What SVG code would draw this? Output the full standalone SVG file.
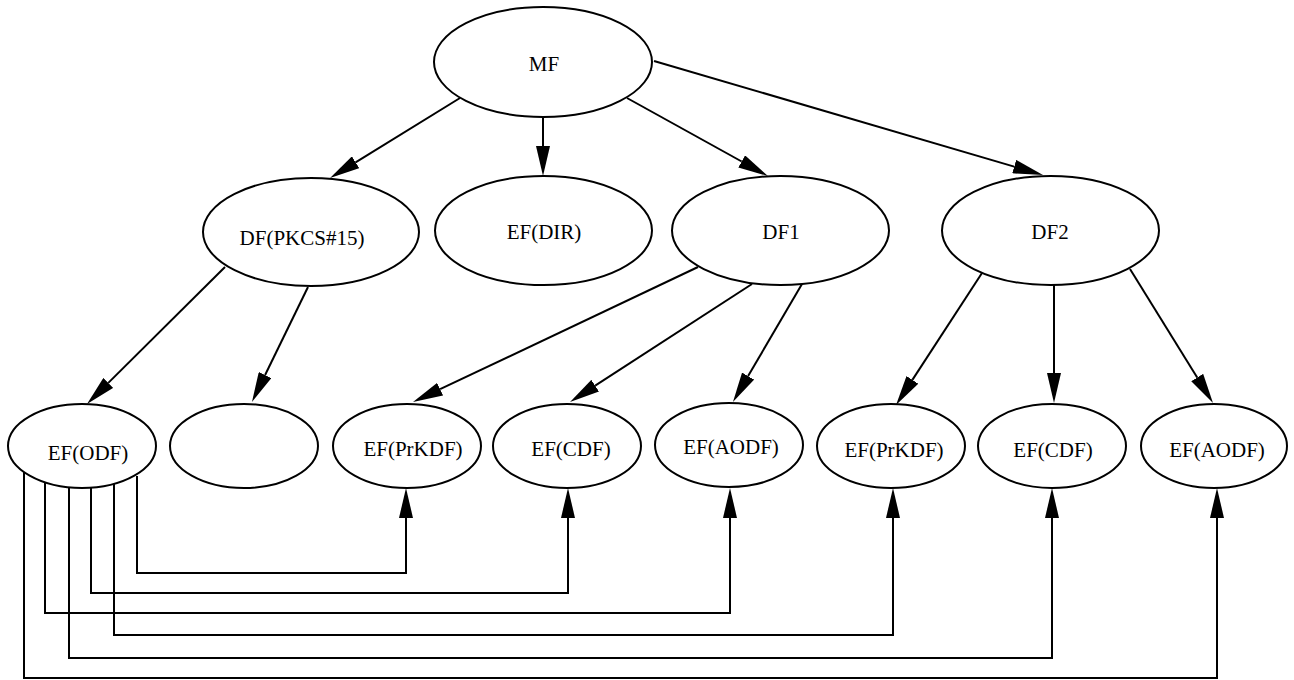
<svg xmlns="http://www.w3.org/2000/svg" width="1294" height="680" viewBox="0 0 1294 680">
<style>
.node ellipse{fill:#fff;stroke:#000;stroke-width:2}
.node text{font-family:"Liberation Serif","Times New Roman",serif;font-size:21px;fill:#000;text-anchor:middle}
.edges path{fill:none;stroke:#000;stroke-width:2;marker-end:url(#arr)}
</style>
<defs>
<marker id="arr" viewBox="0 0 30 14" markerWidth="30" markerHeight="14" refX="0" refY="7" markerUnits="userSpaceOnUse" orient="auto">
<path d="M0,0 L30,7 L0,14 z" fill="#000"/>
</marker>
</defs>
<rect width="1294" height="680" fill="#fff"/>
<g class="edges" id="connectors">
<path d="M460,98 L355.6,162.3"/>
<path d="M543,117 L543,146"/>
<path d="M627,98 L741.7,161.5"/>
<path d="M654,61 L1014.2,166.6"/>
<path d="M225,267 L108.3,382.9"/>
<path d="M308,287 L265.1,375"/>
<path d="M698,267 L440.1,389.2"/>
<path d="M752,284 L595.2,385.7"/>
<path d="M802,284 L748.1,376.1"/>
<path d="M982,273 L912.4,379.9"/>
<path d="M1054,285 L1054,373"/>
<path d="M1130,269 L1197.2,377.5"/>
<path d="M137,476 L137,573 L406,573 L406,518"/>
<path d="M91,487 L91,593 L568,593 L568,518"/>
<path d="M45,482 L45,613 L730,613 L730,518"/>
<path d="M114,484 L114,635 L893,635 L893,518"/>
<path d="M69,487 L69,658 L1052,658 L1052,518"/>
<path d="M24,471 L24,678 L1217,678 L1217,518"/>
</g>
<g class="node" id="MF"><ellipse cx="543" cy="62" rx="109" ry="55"/><text x="544" y="71">MF</text></g>
<g class="node" id="DF_PKCS15"><ellipse cx="311" cy="232" rx="108" ry="54"/><text x="302" y="245">DF(PKCS#15)</text></g>
<g class="node" id="EF_DIR"><ellipse cx="543.5" cy="230.5" rx="108.5" ry="54.5"/><text x="544" y="239">EF(DIR)</text></g>
<g class="node" id="DF1"><ellipse cx="780.5" cy="230.5" rx="108.5" ry="54.5"/><text x="781" y="239">DF1</text></g>
<g class="node" id="DF2"><ellipse cx="1050.5" cy="230.5" rx="108.5" ry="54.5"/><text x="1050" y="239">DF2</text></g>
<g class="node" id="EF_ODF"><ellipse cx="82" cy="446" rx="74" ry="42"/><text x="88" y="460">EF(ODF)</text></g>
<g class="node" id="EF_empty"><ellipse cx="244" cy="446" rx="74" ry="42"/></g>
<g class="node" id="EF_PrKDF1"><ellipse cx="407" cy="446" rx="74" ry="42"/><text x="413" y="456">EF(PrKDF)</text></g>
<g class="node" id="EF_CDF1"><ellipse cx="567" cy="446" rx="74" ry="42"/><text x="571" y="456">EF(CDF)</text></g>
<g class="node" id="EF_AODF1"><ellipse cx="729" cy="445" rx="74" ry="42"/><text x="731" y="454">EF(AODF)</text></g>
<g class="node" id="EF_PrKDF2"><ellipse cx="891" cy="446" rx="74" ry="42"/><text x="894" y="457">EF(PrKDF)</text></g>
<g class="node" id="EF_CDF2"><ellipse cx="1052" cy="446" rx="74" ry="42"/><text x="1053" y="457">EF(CDF)</text></g>
<g class="node" id="EF_AODF2"><ellipse cx="1214" cy="446" rx="73" ry="42"/><text x="1217" y="457">EF(AODF)</text></g>
</svg>
